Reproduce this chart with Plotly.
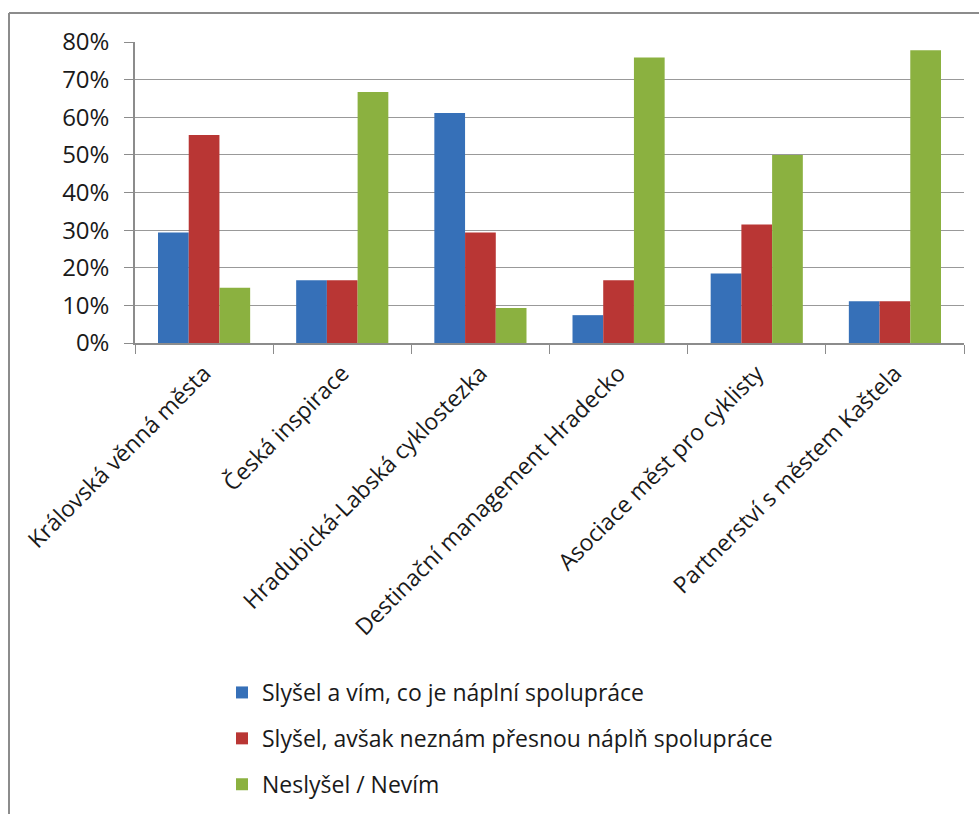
import plotly.graph_objects as go

categories = [
    "Královská věnná města",
    "Česká inspirace",
    "Hradubická-Labská cyklostezka",
    "Destinační management Hradecko",
    "Asociace měst pro cyklisty",
    "Partnerství s městem Kaštela",
]
series_names = [
    "Slyšel a vím, co je náplní spolupráce",
    "Slyšel, avšak neznám přesnou náplň spolupráce",
    "Neslyšel / Nevím",
]
slysel_vim = [0.294, 0.167, 0.611, 0.074, 0.185, 0.111]
slysel_neznam = [0.553, 0.167, 0.294, 0.167, 0.315, 0.111]
neslysel = [0.147, 0.667, 0.093, 0.759, 0.500, 0.778]
colors = ["#3670b8", "#b93634", "#8bb140"]
y_tickvals = [0, 0.1, 0.2, 0.3, 0.4, 0.5, 0.6, 0.7, 0.8]

W, H = 979, 814
L, R, T, B = 135, 15, 42, 471
pw, ph = W - L - R, H - T - B

fig = go.Figure()
for i, (name, vals) in enumerate(zip(series_names, [slysel_vim, slysel_neznam, neslysel])):
    fig.add_trace(go.Bar(
        x=categories, y=vals, name=name,
        marker=dict(color=colors[i], line=dict(width=0)),
        legendgroup=f"g{i}",
    ))

def px_x(p):
    return (p - L) / pw

def px_y(p):
    return (H - B - p) / ph

border = "#8c8c8c"
shapes = [
    dict(type="line", xref="paper", yref="paper", x0=px_x(9), x1=px_x(9), y0=px_y(13), y1=px_y(H + 5),
         line=dict(color=border, width=2)),
    dict(type="line", xref="paper", yref="paper", x0=px_x(9), x1=px_x(W + 5), y0=px_y(13), y1=px_y(13),
         line=dict(color=border, width=2)),
]

font = "Open Sans, Noto Sans, sans-serif"
fig.update_layout(
    width=W, height=H,
    margin=dict(l=L, r=R, t=T, b=B, pad=0, autoexpand=False),
    paper_bgcolor="white", plot_bgcolor="white",
    barmode="group", bargap=0.333, bargroupgap=0,
    font=dict(family=font, size=22, color="#1a1a1a"),
    showlegend=True,
    legend=dict(
        x=px_x(222), y=px_y(671), xanchor="left", yanchor="top",
        orientation="v", traceorder="grouped", tracegroupgap=13,
        font=dict(family=font, size=23, color="#1a1a1a"),
        itemwidth=30, bgcolor="rgba(0,0,0,0)",
    ),
    shapes=shapes,
    xaxis=dict(
        type="category", tickangle=-45, tickson="boundaries",
        ticks="outside", ticklen=9, tickcolor="#8c8c8c",
        showline=True, linecolor="#8c8c8c", linewidth=1.5,
        showgrid=False, ticklabelstandoff=6, automargin=False,
        tickfont=dict(family=font, size=23, color="#1a1a1a"),
    ),
    yaxis=dict(
        range=[0, 0.8], tickvals=y_tickvals, tickformat=".0%",
        ticks="outside", ticklen=9, tickcolor="#8c8c8c",
        showline=True, linecolor="#8c8c8c", linewidth=1.5,
        showgrid=True, gridcolor="#999999", gridwidth=1.2,
        zeroline=False, ticklabelstandoff=10, automargin=False,
        tickfont=dict(family=font, size=24, color="#1a1a1a"),
    ),
)

fig.write_html("out.html", config={"displayModeBar": False},
               post_script="document.body.style.margin='0';")
